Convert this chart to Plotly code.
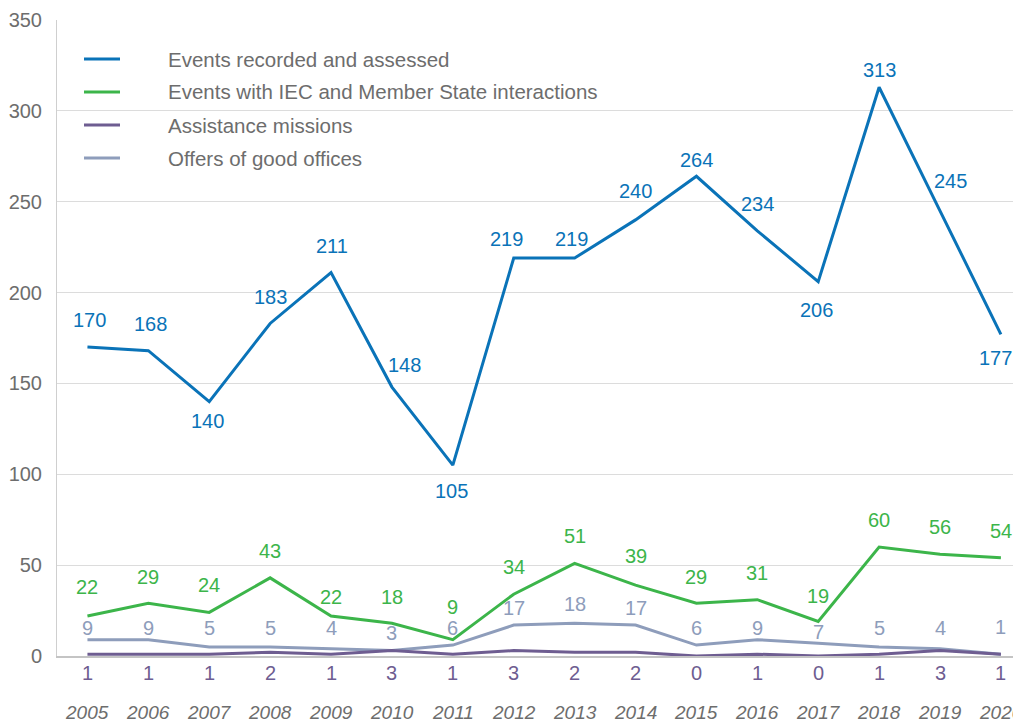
import plotly.graph_objects as go

years = list(range(2005, 2021))
events_recorded = [170, 168, 140, 183, 211, 148, 105, 219, 219, 240, 264, 234, 206, 313, 245, 177]
events_iec = [22, 29, 24, 43, 22, 18, 9, 34, 51, 39, 29, 31, 19, 60, 56, 54]
assistance = [1, 1, 1, 2, 1, 3, 1, 3, 2, 2, 0, 1, 0, 1, 3, 1]
good_offices = [9, 9, 5, 5, 4, 3, 6, 17, 18, 17, 6, 9, 7, 5, 4, 1]
year_labels = [str(y) for y in years]

names = ["Events recorded and assessed",
         "Events with IEC and Member State interactions",
         "Assistance missions",
         "Offers of good offices"]

BLUE = "#0a73b8"
GREEN = "#3cb54a"
PURPLE = "#6e5d91"
GREYBLUE = "#8e9dbb"
TXT = "#6d6d6d"
FONT = "Liberation Sans, Arial, sans-serif"

# label offsets in pixels (dx, dy) — style only
blue_off = [(2, 27), (2, 27), (-2, -19), (0, 26), (1, 27), (13, 22), (-1, -26), (-7, 19),
            (-3, 19), (0, 29), (0, 16), (0, 27), (-2, -28), (0, 17), (10, 30), (-5, -24)]
green_off = [(0, 29), (0, 26), (0, 27), (0, 27), (0, 19), (0, 26), (0, 33), (0, 27),
             (0, 27), (0, 29), (0, 26), (0, 27), (0, 25), (0, 27), (0, 27), (0, 27)]
grey_off = [(0, 12), (0, 12), (0, 19), (0, 19), (0, 21), (0, 18), (0, 17), (0, 17),
            (0, 19), (0, 17), (0, 17), (0, 12), (0, 11), (0, 19), (0, 21), (0, 27)]

# the page body has an 8px margin, so the figure is placed at (8, 8)
PAGE_OFF = 8
W, H = 1021 - PAGE_OFF, 722 - PAGE_OFF
ML, MT, MB, MR = 57 - PAGE_OFF, 20 - PAGE_OFF, 66, 0
PW = W - ML - MR
PH = H - MT - MB

fig = go.Figure()
series = [(events_recorded, BLUE), (events_iec, GREEN), (assistance, PURPLE), (good_offices, GREYBLUE)]
for idx in [3, 2, 1, 0]:
    vals, col = series[idx]
    fig.add_trace(go.Scatter(x=years, y=vals, mode="lines", name=names[idx],
                             line=dict(color=col, width=3), showlegend=False,
                             cliponaxis=False))

LBL = 20
ann = []
for x, v, (dx, dy) in zip(years, events_recorded, blue_off):
    ann.append(dict(x=x, y=v, text=str(v), xshift=dx, yshift=dy, showarrow=False,
                    font=dict(color=BLUE, size=LBL, family=FONT)))
for x, v, (dx, dy) in zip(years, events_iec, green_off):
    ann.append(dict(x=x, y=v, text=str(v), xshift=dx, yshift=dy, showarrow=False,
                    font=dict(color=GREEN, size=LBL, family=FONT)))
for x, v, (dx, dy) in zip(years, good_offices, grey_off):
    ann.append(dict(x=x, y=v, text=str(v), xshift=dx, yshift=dy, showarrow=False,
                    font=dict(color=GREYBLUE, size=LBL, family=FONT)))
for x, v in zip(years, assistance):
    ann.append(dict(x=x, y=0, text=str(v), yshift=-17, showarrow=False,
                    font=dict(color=PURPLE, size=LBL, family=FONT)))
for x, t in zip(years, year_labels):
    ann.append(dict(x=x, y=0, text=t, yshift=-56, showarrow=False,
                    font=dict(color=TXT, size=19, family=FONT, style="italic")))

# manual legend (positions given in reference page pixels)
shapes = []
leg_y = [59, 92, 125, 158]
for name, (vals, col), yy in zip(names, series, leg_y):
    yp = 1 - (yy - 20) / PH
    shapes.append(dict(type="line", xref="paper", yref="paper",
                       x0=(84 - 57) / PW, x1=(120 - 57) / PW, y0=yp, y1=yp,
                       line=dict(color=col, width=3)))
    ann.append(dict(xref="paper", yref="paper", x=(168 - 57) / PW, y=yp,
                    xanchor="left", yanchor="middle", text=name, showarrow=False,
                    xshift=-2, font=dict(color=TXT, size=20.5, family=FONT)))

fig.update_layout(
    width=W, height=H,
    margin=dict(l=ML, r=MR, t=MT, b=MB, pad=0),
    paper_bgcolor="white", plot_bgcolor="white",
    font=dict(family=FONT, color=TXT),
    annotations=ann, shapes=shapes,
    xaxis=dict(range=[2004.5, 2020.33], showgrid=False, showticklabels=False,
               showline=True, linecolor="#c4c4c4", linewidth=2, zeroline=False, ticks=""),
    yaxis=dict(range=[0, 350], dtick=50, showgrid=True, gridcolor="#dcdcdc", gridwidth=1,
               showline=True, linecolor="#cfcfcf", linewidth=1, zeroline=False,
               tickfont=dict(size=20, color=TXT, family=FONT), ticks="",
               ticklabelstandoff=10),
)

fig.write_html("out.html")
